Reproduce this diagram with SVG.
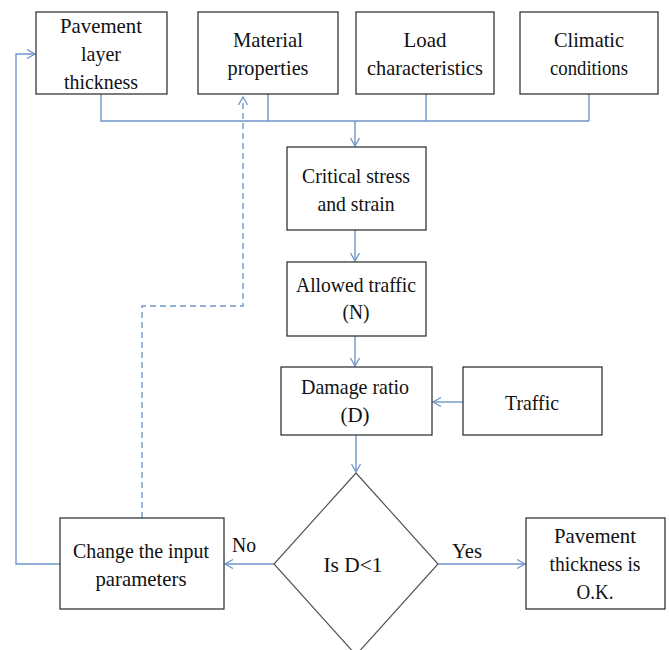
<svg xmlns="http://www.w3.org/2000/svg" width="669" height="650" viewBox="0 0 669 650">
<style>
.box{fill:#fff;stroke:#262626;stroke-width:1.2}
.dia{fill:#fff;stroke:#555;stroke-width:1.2}
.t{font-family:"Liberation Serif","Times New Roman",serif;font-size:21.5px;fill:#111;text-anchor:middle}
.c{fill:none;stroke:#6f96c8;stroke-width:1.4}
.d{stroke-dasharray:6,4}
</style>
<defs>
<marker id="ah" markerUnits="userSpaceOnUse" markerWidth="12" markerHeight="12" refX="9" refY="5" orient="auto">
<path d="M1,0.5 L9,5 L1,9.5" fill="none" stroke="#6f96c8" stroke-width="1.3"/>
</marker>
</defs>
<g id="connectors">
<path class="c" d="M101,94 V121 H589 M268,94 V121 M426,94 V121 M589,94 V121"/>
<path class="c" d="M355,121 V146" marker-end="url(#ah)"/>
<path class="c" d="M355,230 V261" marker-end="url(#ah)"/>
<path class="c" d="M355,336 V366" marker-end="url(#ah)"/>
<path class="c" d="M463,402 H433" marker-end="url(#ah)"/>
<path class="c" d="M356,435 V472" marker-end="url(#ah)"/>
<path class="c" d="M274,564 H225" marker-end="url(#ah)"/>
<path class="c" d="M438,564 H525" marker-end="url(#ah)"/>
<path class="c" d="M60,564 H16 V54 H35" marker-end="url(#ah)"/>
<path class="c d" d="M142,518 V306 H243 V97" marker-end="url(#ah)"/>
</g>
<g id="n1"><rect class="box" x="36" y="12" width="131" height="82"/>
<text class="t" x="101" y="33" textLength="82" lengthAdjust="spacingAndGlyphs">Pavement</text><text class="t" x="101" y="61" textLength="40" lengthAdjust="spacingAndGlyphs">layer</text><text class="t" x="101" y="89" textLength="74" lengthAdjust="spacingAndGlyphs">thickness</text></g>
<g id="n2"><rect class="box" x="198" y="12" width="140" height="82"/>
<text class="t" x="268" y="47" textLength="70" lengthAdjust="spacingAndGlyphs">Material</text><text class="t" x="268" y="75" textLength="81" lengthAdjust="spacingAndGlyphs">properties</text></g>
<g id="n3"><rect class="box" x="356" y="12" width="138" height="82"/>
<text class="t" x="425" y="47" textLength="43" lengthAdjust="spacingAndGlyphs">Load</text><text class="t" x="425" y="75" textLength="116" lengthAdjust="spacingAndGlyphs">characteristics</text></g>
<g id="n4"><rect class="box" x="520" y="12" width="138" height="82"/>
<text class="t" x="589" y="47" textLength="70" lengthAdjust="spacingAndGlyphs">Climatic</text><text class="t" x="589" y="75" textLength="78" lengthAdjust="spacingAndGlyphs">conditions</text></g>
<g id="n5"><rect class="box" x="287" y="147" width="139" height="83"/>
<text class="t" x="356" y="183" textLength="108" lengthAdjust="spacingAndGlyphs">Critical stress</text><text class="t" x="356" y="211" textLength="77" lengthAdjust="spacingAndGlyphs">and strain</text></g>
<g id="n6"><rect class="box" x="287" y="262" width="139" height="74"/>
<text class="t" x="356" y="292" textLength="120" lengthAdjust="spacingAndGlyphs">Allowed traffic</text><text class="t" x="356" y="319" textLength="27" lengthAdjust="spacingAndGlyphs">(N)</text></g>
<g id="n7"><rect class="box" x="281" y="367" width="151" height="68"/>
<text class="t" x="355" y="394" textLength="108" lengthAdjust="spacingAndGlyphs">Damage ratio</text><text class="t" x="355" y="422" textLength="29" lengthAdjust="spacingAndGlyphs">(D)</text></g>
<g id="n8"><rect class="box" x="463" y="367" width="139" height="68"/>
<text class="t" x="532" y="410" textLength="54" lengthAdjust="spacingAndGlyphs">Traffic</text></g>
<g id="n9"><polygon class="dia" points="356,473 438,564 356,655 274,564"/>
<text class="t" x="353" y="572" textLength="59" lengthAdjust="spacingAndGlyphs">Is D&lt;1</text></g>
<g id="n10"><rect class="box" x="60" y="518" width="164" height="91"/>
<text class="t" x="141" y="558" textLength="136" lengthAdjust="spacingAndGlyphs">Change the input</text><text class="t" x="141" y="586" textLength="91" lengthAdjust="spacingAndGlyphs">parameters</text></g>
<g id="n11"><rect class="box" x="526" y="518" width="139" height="91"/>
<text class="t" x="595" y="543" textLength="82" lengthAdjust="spacingAndGlyphs">Pavement</text><text class="t" x="595" y="571" textLength="91" lengthAdjust="spacingAndGlyphs">thickness is</text><text class="t" x="595" y="599" textLength="37" lengthAdjust="spacingAndGlyphs">O.K.</text></g>
<g id="labels">
<text class="t" x="244" y="552" textLength="24" lengthAdjust="spacingAndGlyphs">No</text>
<text class="t" x="467" y="558" textLength="30" lengthAdjust="spacingAndGlyphs">Yes</text>
</g>
</svg>
